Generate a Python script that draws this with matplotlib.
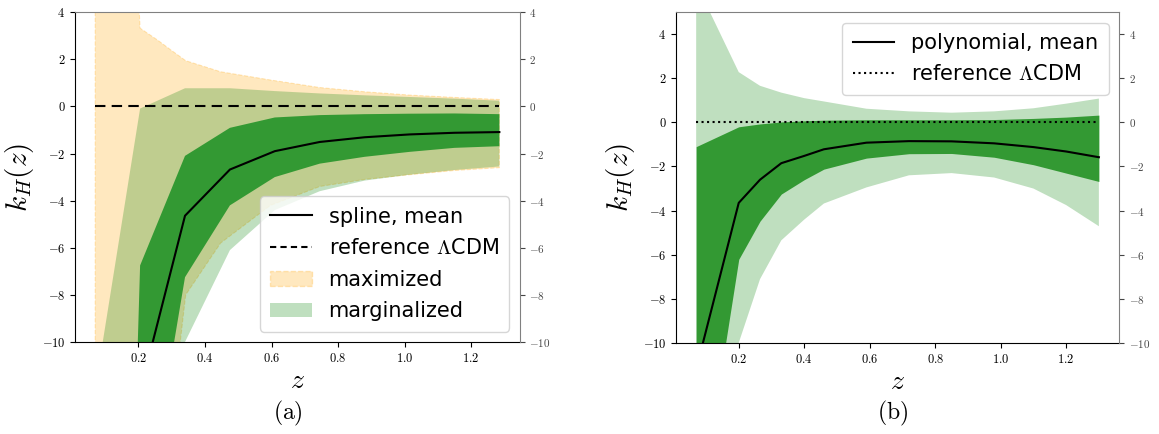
import numpy as np
import matplotlib
matplotlib.use('Agg')
from matplotlib import pyplot as plt
from matplotlib.patches import Patch
from matplotlib.lines import Line2D
from matplotlib.ticker import FuncFormatter

plt.rcParams['mathtext.fontset'] = 'cm'
plt.rcParams['font.family'] = ['DejaVu Sans']

# (a) spline reconstruction
z_spl = [0.07, 0.205, 0.34, 0.475, 0.61, 0.745, 0.88, 1.015, 1.15, 1.285]
spl_mean = [-30.0, -12.1, -4.64, -2.68, -1.90, -1.51, -1.31, -1.19, -1.12, -1.09]
spl_1s_hi = [-70.0, -6.75, -2.10, -0.91, -0.47, -0.37, -0.33, -0.31, -0.30, -0.33]
spl_1s_lo = [-150.0, -18.6, -7.25, -4.20, -3.00, -2.43, -2.14, -1.93, -1.76, -1.69]
spl_2s_hi = [-12.0, -0.09, 0.77, 0.77, 0.65, 0.55, 0.47, 0.40, 0.33, 0.24]
spl_2s_lo = [-80.0, -35.0, -10.0, -6.10, -4.40, -3.60, -3.15, -2.90, -2.70, -2.55]

# (a) maximized posterior band
z_max = [0.07, 0.205, 0.257, 0.297, 0.342, 0.447, 0.597, 0.745, 0.88, 1.015, 1.15, 1.285]
max_hi = [40.0, 3.32, 2.82, 2.40, 1.94, 1.47, 1.12, 0.80, 0.62, 0.48, 0.38, 0.29]
max_lo = [-200.0, -40.0, -20.0, -13.5, -8.0, -5.8, -4.2, -3.4, -3.1, -2.9, -2.72, -2.60]

# (b) polynomial reconstruction
z_pol = [0.07, 0.2, 0.265, 0.33, 0.40, 0.46, 0.59, 0.72, 0.85, 0.98, 1.1, 1.2, 1.3]
pol_mean = [-11.2, -3.65, -2.60, -1.85, -1.52, -1.22, -0.92, -0.85, -0.86, -0.95, -1.12, -1.32, -1.58]
pol_1s_hi = [-1.10, -0.20, -0.07, 0.02, 0.07, 0.10, 0.12, 0.12, 0.12, 0.13, 0.18, 0.24, 0.33]
pol_1s_lo = [-18.5, -6.21, -4.48, -3.25, -2.60, -2.12, -1.62, -1.42, -1.41, -1.58, -1.92, -2.30, -2.68]
pol_2s_hi = [6.3, 2.28, 1.66, 1.35, 1.10, 0.95, 0.62, 0.50, 0.44, 0.50, 0.64, 0.85, 1.08]
pol_2s_lo = [-40.0, -10.0, -7.11, -5.35, -4.41, -3.68, -2.95, -2.40, -2.30, -2.50, -3.00, -3.75, -4.71]

yticks = [-10, -8, -6, -4, -2, 0, 2, 4]
xticks = [0.2, 0.4, 0.6, 0.8, 1.0, 1.2]

dark = '#339933'


def style_axes(ax, ylim):
    ax.set_ylim(*ylim)
    ax.set_xticks(xticks)
    ax.set_yticks(yticks)
    ax.xaxis.set_major_formatter(FuncFormatter(lambda v, p: '$%.1f$' % v))
    ax.yaxis.set_major_formatter(FuncFormatter(lambda v, p: '$%d$' % v))
    ax.tick_params(labelsize=9)
    ax.spines['top'].set_color('#808080')
    ax.spines['right'].set_visible(False)
    ax.set_xlabel('$z$', fontsize=20, labelpad=1)
    ax.set_ylabel('$k_H(z)$', fontsize=21)
    tw = ax.twinx()
    tw.set_ylim(*ylim)
    tw.set_yticks(yticks)
    tw.yaxis.set_major_formatter(FuncFormatter(lambda v, p: '$%d$' % v))
    tw.tick_params(labelsize=8, colors='#444444')
    for s in ['top', 'left', 'bottom']:
        tw.spines[s].set_visible(False)
    tw.spines['right'].set_color('#808080')
    return tw


fig = plt.figure(figsize=(11.59, 4.34), dpi=100)
ax1 = fig.add_axes([0.0647, 0.212, 0.3836, 0.760])
ax2 = fig.add_axes([0.5833, 0.210, 0.3822, 0.762])

# left: spline
ax1.fill_between(z_max, max_lo, max_hi, color='orange', alpha=0.25, linestyle='--', lw=0.8)
ax1.fill_between(z_spl, spl_2s_lo, spl_2s_hi, color='green', alpha=0.25, lw=0)
ax1.fill_between(z_spl, spl_1s_lo, spl_1s_hi, color=dark, lw=0)
ax1.plot([z_spl[0], z_spl[-1]], [0, 0], 'k--', lw=1.5, dashes=(5, 3))
ax1.plot(z_spl, spl_mean, 'k-', lw=1.5)
style_axes(ax1, (-10, 4))
handles = [Line2D([], [], color='k', lw=1.5),
           Line2D([], [], color='k', lw=1.5, ls='--', dashes=(3, 2)),
           Patch(facecolor='orange', edgecolor='orange', alpha=0.25, linestyle='--'),
           Patch(facecolor='green', alpha=0.25, lw=0)]
ax1.legend(handles, ['spline, mean', r'reference $\Lambda$CDM', 'maximized', 'marginalized'],
           loc='lower right', fontsize=15, handlelength=2.0, borderpad=0.5, labelspacing=0.55)

# right: polynomial
ax2.fill_between(z_pol, pol_2s_lo, pol_2s_hi, color='green', alpha=0.25, lw=0)
ax2.fill_between(z_pol, pol_1s_lo, pol_1s_hi, color=dark, lw=0)
ax2.plot([z_pol[0], z_pol[-1]], [0, 0], 'k:', lw=1.5)
ax2.plot(z_pol, pol_mean, 'k-', lw=1.5)
style_axes(ax2, (-10, 5))
handles = [Line2D([], [], color='k', lw=1.5),
           Line2D([], [], color='k', lw=1.5, ls=':')]
ax2.legend(handles, ['polynomial, mean', r'reference $\Lambda$CDM'],
           loc='upper right', fontsize=15, handlelength=2.0, borderpad=0.5, labelspacing=0.55)

fig.text(0.248, 0.048, r'$(\mathrm{a})$', fontsize=17, ha='center', va='center')
fig.text(0.770, 0.048, r'$(\mathrm{b})$', fontsize=17, ha='center', va='center')

fig.savefig('out.png', dpi=100)
